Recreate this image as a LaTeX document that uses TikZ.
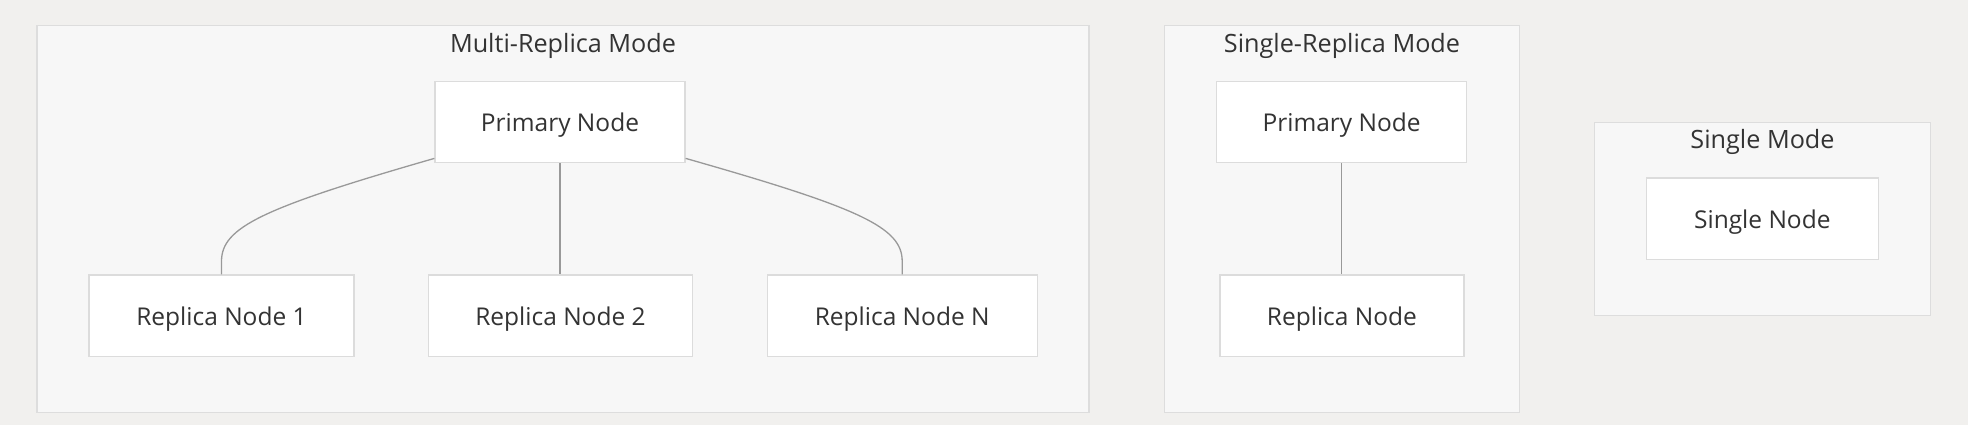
\documentclass[tikz,border=0pt]{standalone}
\usepackage{fontspec}
\setmainfont{Open Sans}
\usetikzlibrary{calc}
\definecolor{bgc}{HTML}{F1F0EE}
\definecolor{clfill}{HTML}{F7F7F7}
\definecolor{clline}{HTML}{DDDDDD}
\definecolor{ndline}{HTML}{DCDCDC}
\definecolor{txt}{HTML}{333333}
\definecolor{edge}{HTML}{999999}
\begin{document}
\begin{tikzpicture}[x=1pt,y=-1pt,
  cluster/.style={draw=clline,fill=clfill,line width=1.3pt},
  ctitle/.style={anchor=base,inner sep=0pt,text=txt,font=\fontsize{25.2}{30}\selectfont},
  nodebox/.style={draw=ndline,fill=white,line width=1.3pt,inner sep=0pt,minimum height=81.5pt,
     text height=19.5pt,text depth=0pt,text=txt,font=\fontsize{24.5}{29}\selectfont},
  link/.style={draw=edge,line width=1.3pt}]
\fill[bgc] (0,0) rectangle (1968,425);
\useasboundingbox (0,0) rectangle (1968,425);
% clusters
\draw[cluster] (37,25.3) rectangle (1089,412.3);
\draw[cluster] (1164.3,25.3) rectangle (1519.6,412.3);
\draw[cluster] (1594.2,122.3) rectangle (1930.8,315.3);
\node[ctitle] (t1) at (563,52.7) {Multi-Replica Mode};
\node[ctitle] (t2) at (1342,52.7) {Single-Replica Mode};
\node[ctitle] (t3) at (1762.5,149) {Single Mode};
% nodes
\node[nodebox,minimum width=250pt] (MP) at (560,122) {Primary Node};
\node[nodebox,minimum width=265pt] (R1) at (221.5,315.7) {Replica Node 1};
\node[nodebox,minimum width=264pt] (R2) at (560.5,315.7) {Replica Node 2};
\node[nodebox,minimum width=270pt] (RN) at (902.2,315.7) {Replica Node N};
\node[nodebox,minimum width=250pt] (SP) at (1341.6,122) {Primary Node};
\node[nodebox,minimum width=244pt] (SR) at (1341.9,315.7) {Replica Node};
\node[nodebox,minimum width=232pt] (SN) at (1762.3,218.8) {Single Node};
% edges
\draw[link] ($(MP.south west)+(0,-5)$) .. controls (262,208) and ($(R1.north)+(0,-47)$) .. ($(R1.north)+(0,-13)$) -- (R1.north);
\draw[link] ($(MP.south east)+(0,-5)$) .. controls (860,208) and ($(RN.north)+(0,-47)$) .. ($(RN.north)+(0,-13)$) -- (RN.north);
\draw[link] (MP.south) -- (MP.south |- R2.north);
\draw[link] (SP.south) -- (SP.south |- SR.north);
\end{tikzpicture}
\end{document}
